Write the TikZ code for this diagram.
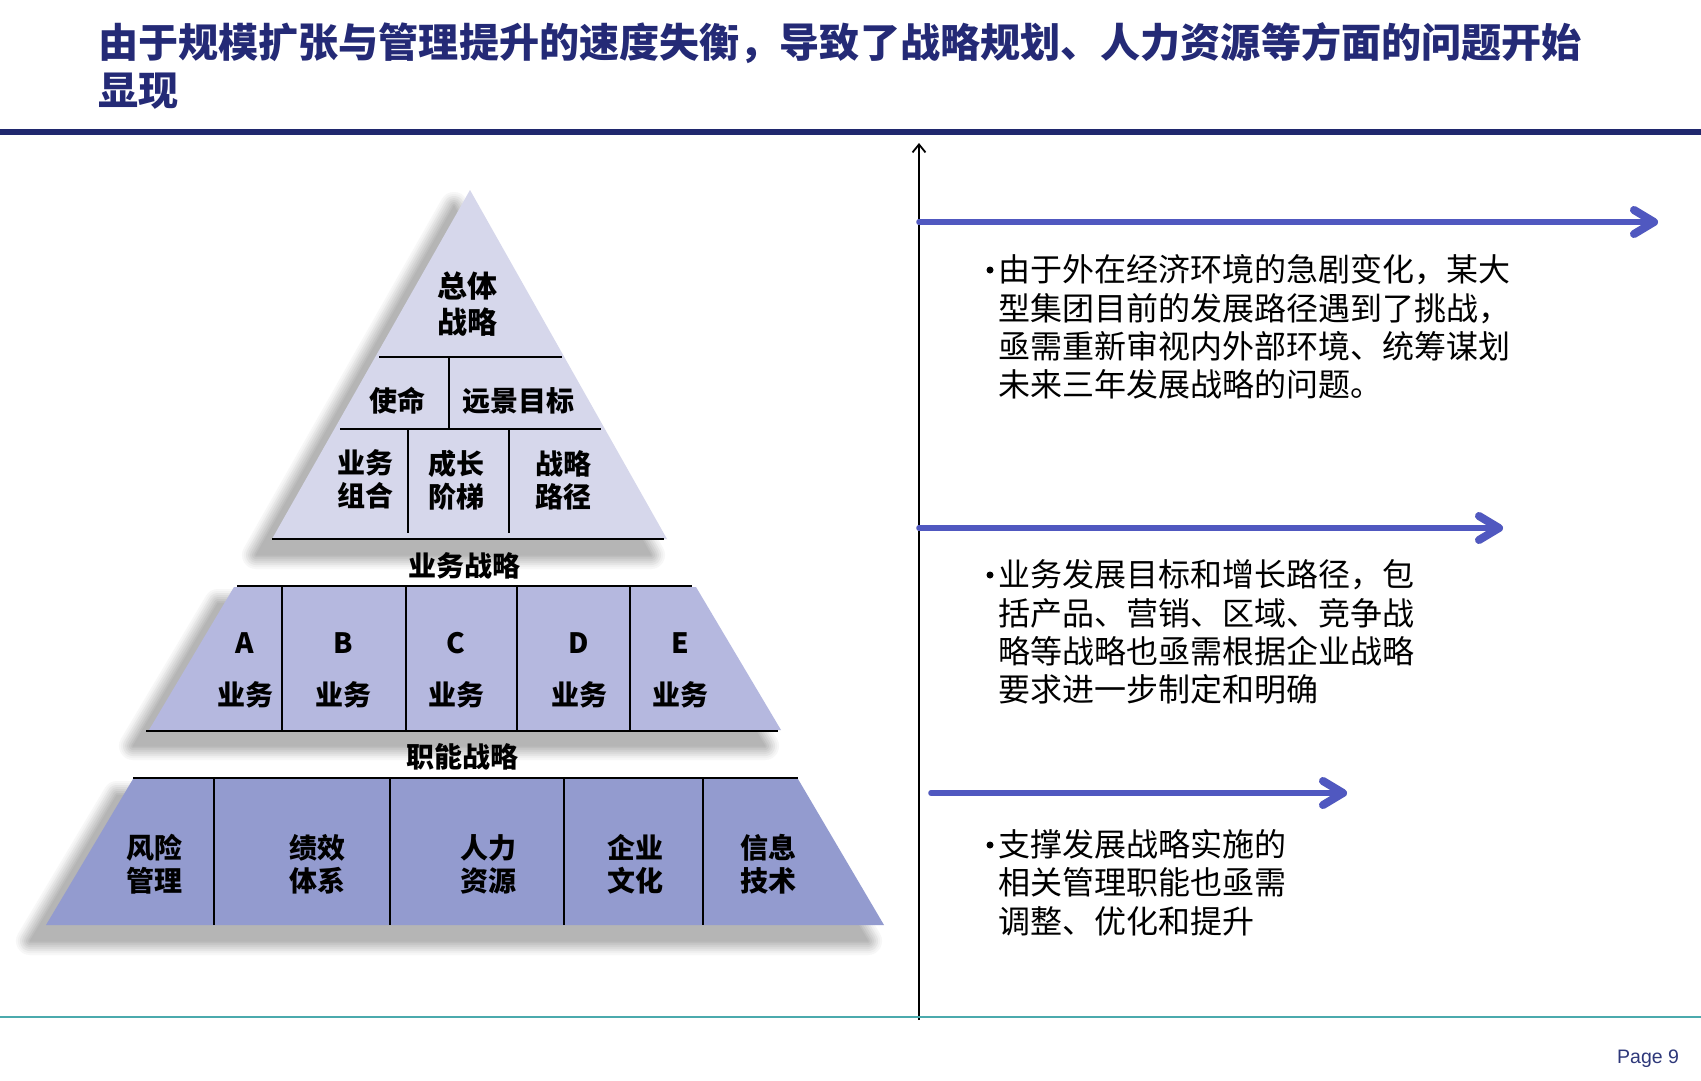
\documentclass[tikz,border=0pt]{standalone}
\usepackage{fontspec}
\setmainfont{Liberation Sans}
\newfontfamily\cjk{Noto Sans CJK SC}
\usetikzlibrary{arrows.meta}
\definecolor{navy}{RGB}{36,42,118}
\definecolor{rulenavy}{RGB}{32,40,110}
\definecolor{topfill}{RGB}{214,215,235}
\definecolor{midfill}{RGB}{181,184,223}
\definecolor{botfill}{RGB}{147,155,207}
\definecolor{arrowblue}{RGB}{80,88,192}
\definecolor{tealline}{RGB}{75,170,173}
\definecolor{pagenavy}{RGB}{46,56,122}
\tikzset{
  titletxt/.style={font=\cjk\bfseries\fontsize{40.1}{48}\selectfont, text=navy, inner sep=0, anchor=base west},
  ptxt/.style={font=\cjk\bfseries\fontsize{28}{33}\selectfont, align=center, inner sep=0, text=black},
  bigptxt/.style={font=\cjk\bfseries\fontsize{30}{36}\selectfont, align=center, inner sep=0, text=black},
  bodytxt/.style={font=\cjk\fontsize{32}{38}\selectfont, inner sep=0, anchor=base west, text=black},
  bulletdot/.style={circle, fill=black, inner sep=0, minimum size=7},
  divline/.style={line width=2.5, black},
  arrowbase/.style={line width=5.5, line cap=round, -{Straight Barb[round, length=20pt, width=24pt, line width=8pt]}},
  bluearrow/.style={arrowbase, arrowblue},
  arrowshadow/.style={arrowbase, black!14, shift={(1,3.5)}},
  axisarrow/.style={line width=1.8, black, -{Straight Barb[length=8pt, width=13pt]}},
  pagetxt/.style={font=\fontsize{19.5}{22}\selectfont, text=pagenavy, inner sep=0, anchor=base west}
}
\def\toptri{(470,190) -- (667,539) -- (272,539) -- cycle}
\def\midtrap{(234,587) -- (696,587) -- (781,730) -- (149,730) -- cycle}
\def\bottrap{(133,779) -- (798,779) -- (884,925) -- (46,925) -- cycle}
\begin{document}
\begin{tikzpicture}[x=1pt,y=-1pt]
\useasboundingbox (0,0) rectangle (1701,1080);
\fill[white] (0,0) rectangle (1701,1080);

% title
\node[titletxt] (title1) at (98,57) {由于规模扩张与管理提升的速度失衡，导致了战略规划、人力资源等方面的问题开始};
\node[titletxt] (title2) at (98,105) {显现};
\draw[rulenavy, line width=6] (0,131.5) -- (1701,131.5);

% shadows
\begin{scope}[shift={(-16,16)}]
\foreach \w/\p in {28/3,24/6,20/10,16/14,12/18,8/22,4/26,0.5/29} {
  \filldraw[draw=black!\p, fill=black!\p, line width=\w, line join=round] \toptri;
  \filldraw[draw=black!\p, fill=black!\p, line width=\w, line join=round] \midtrap;
  \filldraw[draw=black!\p, fill=black!\p, line width=\w, line join=round] \bottrap;
}
\end{scope}

% shapes
\fill[topfill] \toptri;
\fill[midfill] \midtrap;
\fill[botfill] \bottrap;

% top triangle lines
\draw[divline] (272,539) -- (664,539);
\draw[divline] (379,357) -- (562,357);
\draw[divline] (449,357) -- (449,429);
\draw[divline] (340,429) -- (601,429);
\draw[divline] (408,429) -- (408,533);
\draw[divline] (509,429) -- (509,533);

% middle lines
\draw[divline] (237,586) -- (692,586);
\draw[divline] (146,731) -- (778,731);
\foreach \x in {282,406,517,630} { \draw[divline] (\x,586) -- (\x,731); }

% bottom lines
\draw[divline] (133,778) -- (798,778);
\foreach \x in {214,390,564,703} { \draw[divline] (\x,778) -- (\x,925); }

% pyramid texts
\node[bigptxt] (zt) at (467,304) {总体\\战略};
\node[ptxt] (sm) at (397,401) {使命};
\node[ptxt] (yj) at (518,401) {远景目标};
\node[ptxt] (ywzh) at (365,479) {业务\\组合};
\node[ptxt] (czjt) at (456,480) {成长\\阶梯};
\node[ptxt] (zllj) at (563,480) {战略\\路径};
\node[ptxt] (ywzl) at (464,566) {业务战略};

\node[ptxt] (la) at (245,643) {A};
\node[ptxt] (lb) at (343,643) {B};
\node[ptxt] (lc) at (456,643) {C};
\node[ptxt] (ld) at (579,643) {D};
\node[ptxt] (le) at (680,643) {E};
\node[ptxt] (ya) at (245,695) {业务};
\node[ptxt] (yb) at (343,695) {业务};
\node[ptxt] (yc) at (456,695) {业务};
\node[ptxt] (yd) at (579,695) {业务};
\node[ptxt] (ye) at (680,695) {业务};

\node[ptxt] (znzl) at (462,757) {职能战略};
\node[ptxt] (fx) at (154,864) {风险\\管理};
\node[ptxt] (jx) at (317,864) {绩效\\体系};
\node[ptxt] (rl) at (488,864) {人力\\资源};
\node[ptxt] (qy) at (635,864) {企业\\文化};
\node[ptxt] (xx) at (768,864) {信息\\技术};

% axis and arrows
\coordinate (ax0) at (919,1020);
\coordinate (ax1) at (919,143);
\draw[axisarrow] (ax0) -- (ax1);
\coordinate (a1s) at (919,222);
\coordinate (a1e) at (1658,222);
\coordinate (a2s) at (919,528);
\coordinate (a2e) at (1503,528);
\coordinate (a3s) at (931,793);
\coordinate (a3e) at (1347,793);
\draw[arrowshadow] (a1s) -- (a1e);
\draw[arrowshadow] (a2s) -- (a2e);
\draw[arrowshadow] (a3s) -- (a3e);
\draw[bluearrow] (a1s) -- (a1e);
\draw[bluearrow] (a2s) -- (a2e);
\draw[bluearrow] (a3s) -- (a3e);

% right texts
\node[bulletdot] (b1) at (990,270) {};
\node[bodytxt] (t11) at (998,281) {由于外在经济环境的急剧变化，某大};
\node[bodytxt] (t12) at (998,320) {型集团目前的发展路径遇到了挑战，};
\node[bodytxt] (t13) at (998,358) {亟需重新审视内外部环境、统筹谋划};
\node[bodytxt] (t14) at (998,396) {未来三年发展战略的问题。};

\node[bulletdot] (b2) at (990,575) {};
\node[bodytxt] (t21) at (998,586) {业务发展目标和增长路径，包};
\node[bodytxt] (t22) at (998,625) {括产品、营销、区域、竞争战};
\node[bodytxt] (t23) at (998,663) {略等战略也亟需根据企业战略};
\node[bodytxt] (t24) at (998,701) {要求进一步制定和明确};

\node[bulletdot] (b3) at (990,845) {};
\node[bodytxt] (t31) at (998,856) {支撑发展战略实施的};
\node[bodytxt] (t32) at (998,894) {相关管理职能也亟需};
\node[bodytxt] (t33) at (998,933) {调整、优化和提升};

% footer
\draw[tealline, line width=2.5] (0,1017) -- (1701,1017);
\node[pagetxt] (pg) at (1617,1063) {Page 9};
\end{tikzpicture}
\end{document}
